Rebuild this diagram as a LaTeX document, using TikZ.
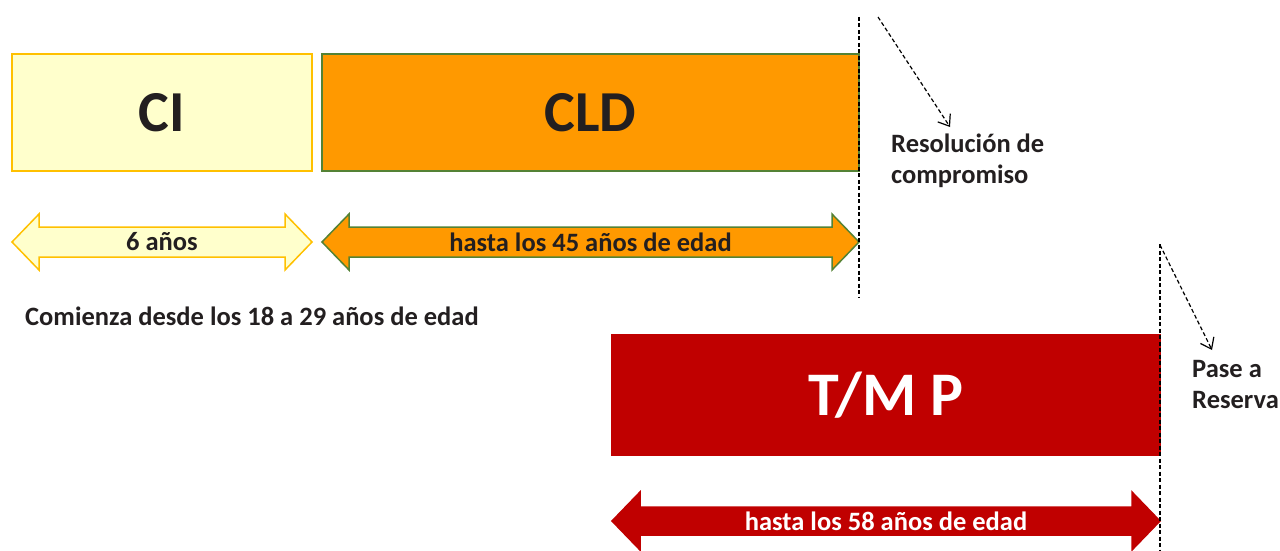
\documentclass[tikz,border=0pt]{standalone}
\usepackage{fontspec}
\setmainfont{Carlito}
\usetikzlibrary{arrows.meta}
\definecolor{ciFill}{RGB}{255,255,204}
\definecolor{ciLine}{RGB}{255,192,0}
\definecolor{cldFill}{RGB}{255,153,0}
\definecolor{cldLine}{RGB}{84,130,53}
\definecolor{tmpRed}{RGB}{192,0,0}
\definecolor{txt}{RGB}{35,31,32}
\tikzset{
  bigbox/.style={rectangle, inner sep=0pt, line width=1.5pt, text=txt,
    font=\bfseries\fontsize{58}{58}\selectfont},
  arrshape/.style={line width=1.5pt, line join=miter},
  arrlabel/.style={inner sep=0pt, text=txt, font=\bfseries\fontsize{26.5}{26.5}\selectfont},
  note/.style={inner sep=0pt, text=txt, anchor=base west,
    font=\bfseries\fontsize{26.5}{26.5}\selectfont},
  dashline/.style={line width=1.2pt, dash pattern=on 4pt off 2.5pt, black},
  dasharrow/.style={dashline, -{Straight Barb[length=10pt,width=15pt,line width=1.2pt]}}
}
\begin{document}
\begin{tikzpicture}[x=1pt,y=-1pt]
\useasboundingbox (0,0) rectangle (1280,551);

% boxes
\node[bigbox, draw=ciLine, fill=ciFill, minimum width=300pt, minimum height=117pt] (ci) at (162,112.5) {CI};
\node[bigbox, draw=cldLine, fill=cldFill, minimum width=537pt, minimum height=117pt] (cld) at (590.5,112.5) {CLD};
\node[bigbox, draw=tmpRed, fill=tmpRed, text=white, minimum width=548pt, minimum height=120pt,
  font=\bfseries\fontsize{62}{62}\selectfont] (tmp) at (886,395) {T/M P};

% double arrows
\draw[arrshape, draw=ciLine, fill=ciFill]
  (12,242) -- (39,214) -- (39,227) -- (285,227) -- (285,214) -- (312,242)
  -- (285,270) -- (285,257) -- (39,257) -- (39,270) -- cycle;
\node[arrlabel] (l6) at (162,242) {6 años};

\draw[arrshape, draw=cldLine, fill=cldFill]
  (322,242) -- (349,214) -- (349,227) -- (832,227) -- (832,214) -- (859,242)
  -- (832,270) -- (832,257) -- (349,257) -- (349,270) -- cycle;
\node[arrlabel] (l45) at (590.5,242) {hasta los 45 años de edad};

\draw[arrshape, draw=tmpRed, fill=tmpRed]
  (612,521) -- (640,492) -- (640,507) -- (1132,507) -- (1132,492) -- (1160,521)
  -- (1132,550) -- (1132,535) -- (640,535) -- (640,550) -- cycle;
\node[arrlabel, text=white] (l58) at (886,521) {hasta los 58 años de edad};

% free text
\node[note] (com) at (25,325) {Comienza desde los 18 a 29 años de edad};
\node[note] (res1) at (891,152) {Resolución de};
\node[note] (res2) at (891,183) {compromiso};
\node[note] (pase1) at (1192,377) {Pase a};
\node[note] (pase2) at (1192,408) {Reserva};

% dashed markers
\coordinate (v1t) at (859,17);
\coordinate (v1b) at (859,298);
\coordinate (v2t) at (1160,244);
\coordinate (v2b) at (1160,551);
\draw[dashline] (v1t) -- (v1b);
\draw[dashline] (v2t) -- (v2b);

\coordinate (a1s) at (878,17);
\coordinate (a1e) at (950,127);
\coordinate (a2s) at (1160,245);
\coordinate (a2e) at (1212,350);
\draw[dasharrow] (a1s) -- (a1e);
\draw[dasharrow] (a2s) -- (a2e);
\end{tikzpicture}
\end{document}
